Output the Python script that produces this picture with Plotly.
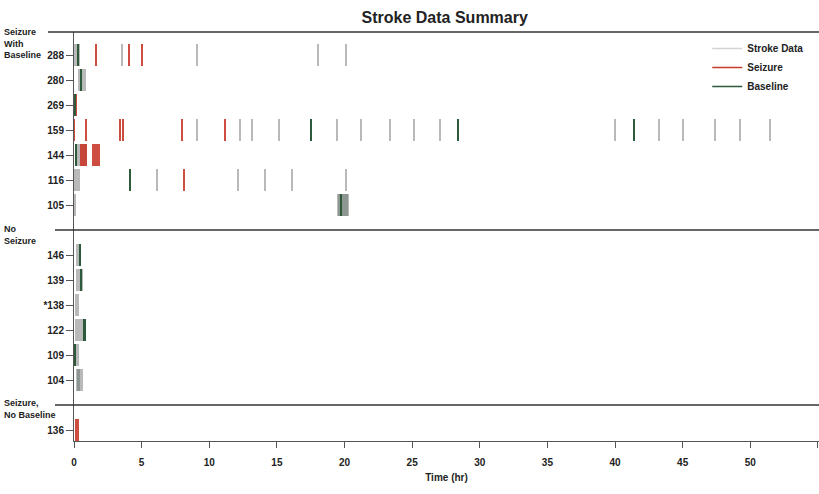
import plotly.graph_objects as go

# ---------------- data ----------------
group_names = ["Seizure<br>With<br>Baseline", "No<br>Seizure", "Seizure,<br>No Baseline"]
group_subjects = [
    ["288", "280", "269", "159", "144", "116", "105"],
    ["146", "139", "*138", "122", "109", "104"],
    ["136"],
]

# Stroke data events (subject, start hr, end hr)
stroke_subj = ["288", "288", "288", "288", "288",
               "280",
               "159", "159", "159", "159", "159", "159", "159", "159", "159",
               "159", "159", "159", "159", "159", "159",
               "144",
               "116", "116", "116", "116", "116", "116",
               "105", "105",
               "146", "139", "*138", "122", "109", "104"]
stroke_start = [0.0, 3.50, 9.05, 18.02, 20.05,
                0.30,
                9.00, 12.25, 13.12, 15.15, 19.43, 21.17, 23.33, 25.07, 27.04,
                39.95, 43.20, 44.96, 47.33, 49.23, 51.40,
                0.05,
                0.0, 6.12, 12.07, 14.07, 16.10, 20.05,
                0.0, 19.45,
                0.15, 0.15, 0.05, 0.05, 0.15, 0.15]
stroke_end = [0.45, 3.58, 9.12, 18.10, 20.12,
              0.90,
              9.15, 12.32, 13.20, 15.22, 19.50, 21.24, 23.40, 25.14, 27.11,
              40.02, 43.27, 45.03, 47.41, 49.31, 51.47,
              0.95,
              0.45, 6.20, 12.14, 14.14, 16.18, 20.13,
              0.12, 20.30,
              0.55, 0.65, 0.40, 0.85, 0.35, 0.70]

# Dense stroke segments (overlapping strokes, drawn darker)
dense_subj = ["105", "104"]
dense_start = [19.50, 0.20]
dense_end = [20.25, 0.45]

# Seizure events
seiz_subj = ["288", "288", "288",
             "269",
             "159", "159", "159", "159", "159", "159",
             "144", "144",
             "116",
             "136"]
seiz_start = [1.55, 4.02, 5.00,
              0.0,
              0.0, 0.85, 3.35, 3.58, 7.97, 11.10,
              0.45, 1.30,
              8.08,
              0.10]
seiz_end = [1.70, 4.14, 5.08,
            0.22,
            0.06, 0.97, 3.50, 3.70, 8.07, 11.20,
            0.95, 1.90,
            8.18,
            0.40]

# Baseline events
base_subj = ["288", "280", "269", "159", "159", "159", "144", "116", "105",
             "146", "139", "122", "109"]
base_start = [0.25, 0.45, 0.02, 17.45, 28.35, 41.35, 0.10, 4.08, 19.72,
              0.35, 0.45, 0.65, 0.0]
base_end = [0.35, 0.55, 0.10, 17.56, 28.46, 41.46, 0.22, 4.20, 19.80,
            0.50, 0.60, 0.85, 0.15]

x_ticks = [0, 5, 10, 15, 20, 25, 30, 35, 40, 45, 50, 55]

# ---------------- layout helpers ----------------
ypos = {}
separators = []
pos = 0
for gi, subs in enumerate(group_subjects):
    if gi > 0:
        separators.append(pos)
        pos += 1
    for s in subs:
        ypos[s] = pos
        pos += 1
last_row = pos - 1

GRAY = "#b9b9b9"
DARKGRAY = "#8e9691"
RED = "#c83a2c"
GREEN = "#2c5a3a"
FONT = "Liberation Sans Narrow, Arial Narrow, Liberation Sans, sans-serif"

fig = go.Figure()


def add_bars(subj, start, end, color, name, opacity=1.0):
    fig.add_trace(go.Bar(
        orientation="h",
        y=[ypos[s] for s in subj],
        base=start,
        x=[e - b for b, e in zip(start, end)],
        width=0.88,
        marker=dict(color=color, line=dict(width=0), opacity=opacity),
        name=name,
        showlegend=False,
        hoverinfo="skip",
    ))


add_bars(stroke_subj, stroke_start, stroke_end, GRAY, "Stroke Data")
add_bars(dense_subj, dense_start, dense_end, DARKGRAY, "Stroke Data")
add_bars(seiz_subj, seiz_start, seiz_end, RED, "Seizure", opacity=0.9)
add_bars(base_subj, base_start, base_end, GREEN, "Baseline")

# legend entries as lines
for name, col in [("Stroke Data", "#d4d4d4"), ("Seizure", RED), ("Baseline", GREEN)]:
    fig.add_trace(go.Scatter(x=[None], y=[None], mode="lines",
                             line=dict(color=col, width=1.5), name=name))

plot_top = -0.92
plot_bottom = last_row + 0.44

# separator lines
fig.add_shape(type="line", xref="paper", yref="paper", x0=-0.035, x1=1.0, y0=1, y1=1,
              line=dict(color="#333333", width=1.5))
for sp in separators:
    fig.add_shape(type="line", xref="paper", yref="y", x0=-0.0255, x1=1.0, y0=sp, y1=sp,
                  line=dict(color="#333333", width=1.5))

# group labels
centers = [-0.48, separators[0] + 0.2, separators[1] + 0.16]
for name, c in zip(group_names, centers):
    fig.add_annotation(text="<b>" + name + "</b>", xref="paper", yref="y",
                       x=-0.096, y=c, xanchor="left", yanchor="middle", align="left",
                       showarrow=False, font=dict(family=FONT, size=9, color="#222"))
fig.add_annotation(text="<b>Subject<br>ID</b>", xref="paper", yref="y",
                   x=-0.033, y=-1.44, xanchor="left", yanchor="middle", align="left",
                   showarrow=False, font=dict(family=FONT, size=9, color="#222"))

fig.update_layout(
    width=819, height=494,
    margin=dict(l=74, r=0, t=32, b=53),
    paper_bgcolor="white", plot_bgcolor="white",
    barmode="overlay", bargap=0,
    title=dict(text="<b>Stroke Data Summary</b>", x=0.543, xanchor="center",
               y=1 - 17 / 494, yanchor="middle", yref="container",
               font=dict(family="Liberation Sans, Arial, sans-serif", size=16, color="#222")),
    legend=dict(x=0.85, y=0.995, xanchor="left", yanchor="top",
                font=dict(family=FONT, size=10, color="#222", weight="bold"),
                bgcolor="rgba(0,0,0,0)", tracegroupgap=0),
    xaxis=dict(range=[0, 55.08], tickvals=x_ticks, ticks="outside", ticklen=6,
               tickcolor="#555", showline=True, linecolor="#555", linewidth=1,
               showgrid=False, zeroline=False, ticklabelstandoff=6,
               tickfont=dict(family=FONT, size=10, color="#222", weight="bold"),
               title=dict(text="<b>Time (hr)</b>", standoff=6,
                          font=dict(family=FONT, size=10, color="#222"))),
    yaxis=dict(range=[plot_bottom, plot_top], tickvals=[ypos[s] for s in ypos],
               ticktext=list(ypos.keys()), ticks="outside", ticklen=7,
               tickcolor="#555", showline=True, linecolor="#555", linewidth=1,
               showgrid=False, zeroline=False,
               tickfont=dict(family=FONT, size=10, color="#222", weight="bold")),
)

fig.write_html("out.html")
